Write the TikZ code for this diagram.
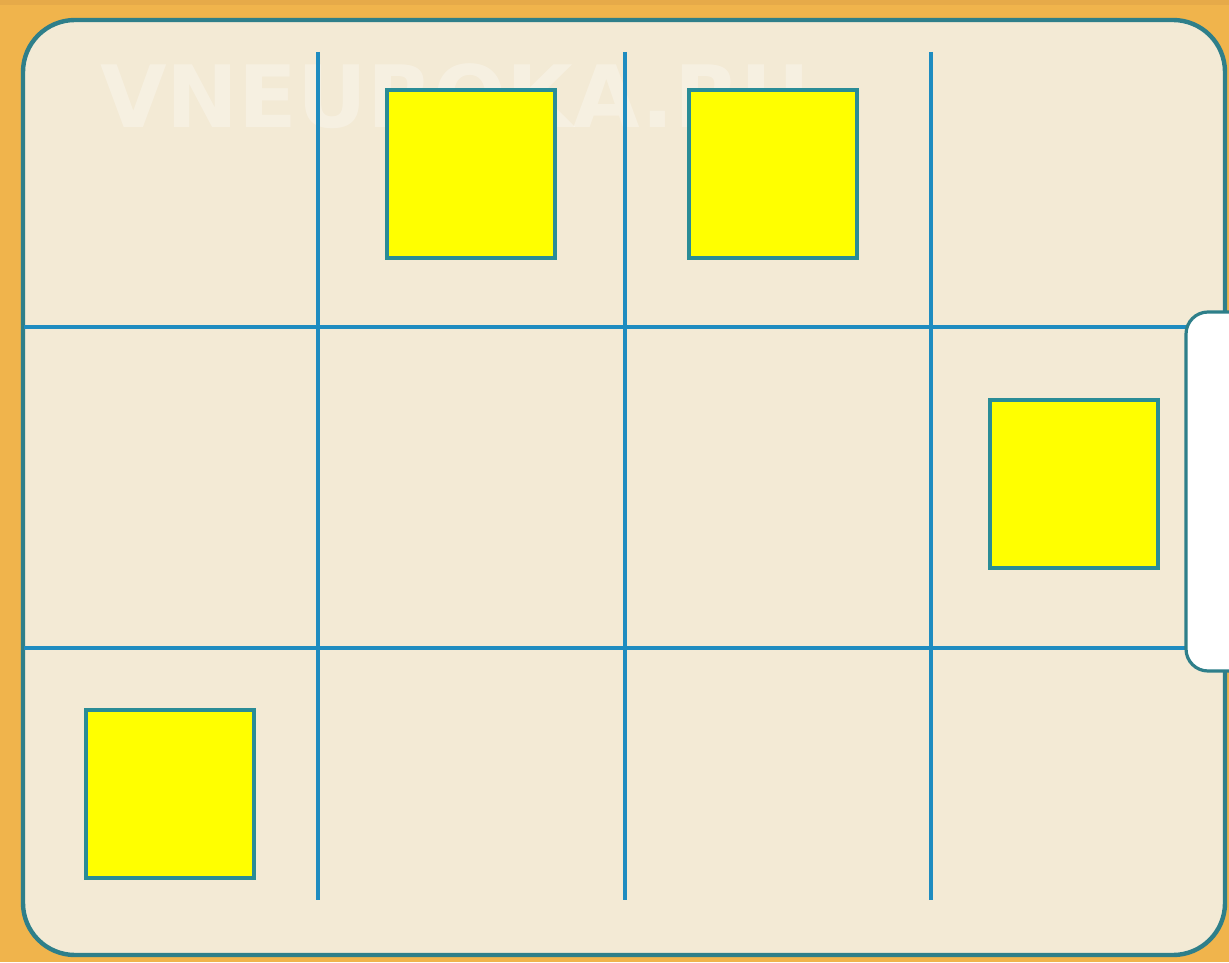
\documentclass[tikz,border=0pt]{standalone}
\usepackage{fontspec}
\setmainfont{DejaVu Sans}
\definecolor{bgorange}{HTML}{F0B44C}
\definecolor{panelfill}{HTML}{F3EAD5}
\definecolor{panelrim}{HTML}{2E7F8A}
\definecolor{gridblue}{HTML}{1E8CC0}
\definecolor{boxrim}{HTML}{2A8C96}
\definecolor{boxfill}{HTML}{FFFF00}
\tikzset{
  gridline/.style={gridblue, line width=2.1pt},
  ybox/.style={draw=boxrim, fill=boxfill, line width=2pt, minimum width=84pt, minimum height=84pt, inner sep=0pt},
}
\begin{document}
\begin{tikzpicture}[x=0.5pt,y=-0.5pt]
\useasboundingbox (0,0) rectangle (1229,962);
\fill[bgorange] (0,0) rectangle (1229,962);
\fill[bgorange!80!brown] (0,0) rectangle (1229,5);
% panel
\draw[panelrim, fill=panelfill, line width=2.2pt, rounded corners=26pt] (23,20) rectangle (1225,955);
% watermark
\node[white, opacity=0.3, font=\bfseries\fontsize{43}{50}\selectfont, anchor=base west, inner sep=0pt] (wm) at (100,128) {VNEUROKA.RU};
% grid
\draw[gridline] (318,52) -- (318,900);
\draw[gridline] (625,52) -- (625,900);
\draw[gridline] (931,52) -- (931,900);
\draw[gridline] (24,327) -- (1190,327);
\draw[gridline] (24,648) -- (1190,648);
% tab
\draw[panelrim, fill=white, line width=1.6pt, rounded corners=11pt] (1186,312) rectangle (1250,671);
% squares
\node[ybox] (s1) at (471,174.5) {};
\node[ybox] (s2) at (772.5,174.5) {};
\node[ybox] (s3) at (1074,484) {};
\node[ybox] (s4) at (169.5,793.5) {};
\end{tikzpicture}
\end{document}
